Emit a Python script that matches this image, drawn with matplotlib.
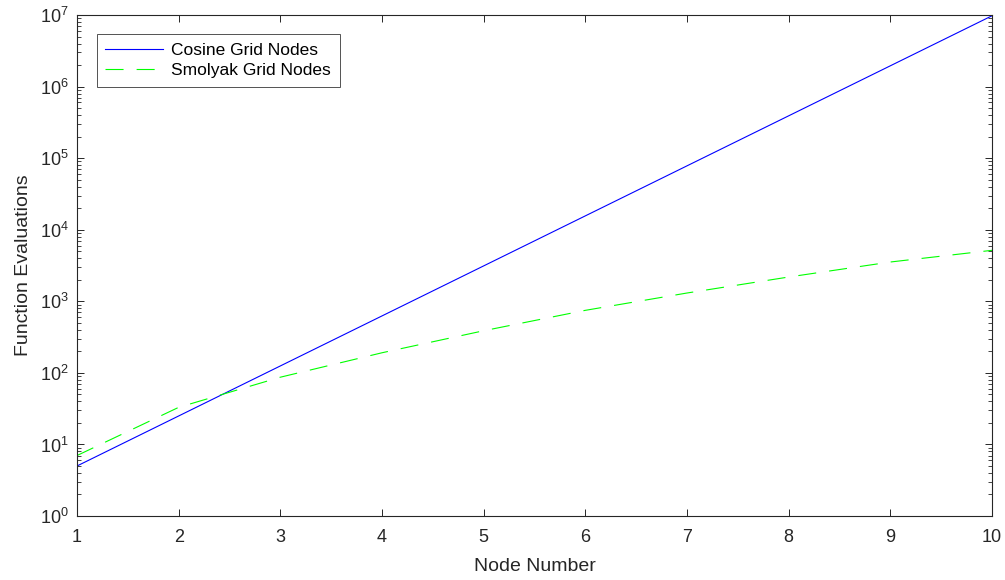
import matplotlib
matplotlib.use("Agg")
import matplotlib.pyplot as plt
from matplotlib.ticker import LogLocator, FixedLocator, NullFormatter, NullLocator

# data
node_number = [1, 2, 3, 4, 5, 6, 7, 8, 9, 10]
cosine_nodes = [5, 25, 125, 625, 3125, 15625, 78125, 390625, 1953125, 9765625]
smolyak_nodes = [7, 33, 87, 191, 388, 748, 1306, 2185, 3541, 5158]

plt.rcParams['font.family'] = ['Liberation Sans', 'DejaVu Sans']
plt.rcParams['mathtext.fontset'] = 'custom'
plt.rcParams['mathtext.rm'] = 'Liberation Sans'
plt.rcParams['mathtext.it'] = 'Liberation Sans'
plt.rcParams['lines.scale_dashes'] = False
axis_grey = '#262626'

fig = plt.figure(figsize=(10.05, 5.8), dpi=100)
ax = fig.add_axes([0.0766, 0.1103, 0.9105, 0.8638])

ax.plot(node_number, cosine_nodes, color='#0000ff', linewidth=0.8,
        label='Cosine Grid Nodes')
ax.plot(node_number, smolyak_nodes, color='#00ff00', linewidth=0.8,
        dashes=(13, 9.4), label='Smolyak Grid Nodes')

ax.set_yscale('log')
ax.set_xlim(1, 10)
ax.set_ylim(1, 1e7)
ax.xaxis.set_major_locator(FixedLocator(node_number))
ax.xaxis.set_minor_locator(NullLocator())
ax.yaxis.set_major_locator(LogLocator(base=10, numticks=20))
ax.yaxis.set_minor_locator(LogLocator(base=10, subs=range(2, 10), numticks=20))
ax.yaxis.set_minor_formatter(NullFormatter())
ax.xaxis.get_offset_text().set_visible(False)
ax.yaxis.get_offset_text().set_visible(False)

ax.tick_params(which='both', direction='in', top=True, right=True,
               colors=axis_grey, labelsize=13)
ax.tick_params(axis='x', pad=9)
ax.tick_params(axis='y', pad=6)
ax.tick_params(which='major', length=5, width=0.7)
ax.tick_params(which='minor', length=3, width=0.6)
for spine in ax.spines.values():
    spine.set_color(axis_grey)
    spine.set_linewidth(0.8)

ax.set_xlabel('Node Number', fontsize=14, color=axis_grey, labelpad=9)
ax.set_ylabel('Function Evaluations', fontsize=14, color=axis_grey, labelpad=6)

leg = ax.legend(loc='upper left', bbox_to_anchor=(0.0215, 0.962), fontsize=12.5,
                frameon=True, fancybox=False, borderaxespad=0,
                handlelength=3.3, handletextpad=0.5, borderpad=0.5,
                labelspacing=0.3)
leg.get_frame().set_edgecolor(axis_grey)
leg.get_frame().set_linewidth(0.7)

fig.savefig('out.png', dpi=100)
